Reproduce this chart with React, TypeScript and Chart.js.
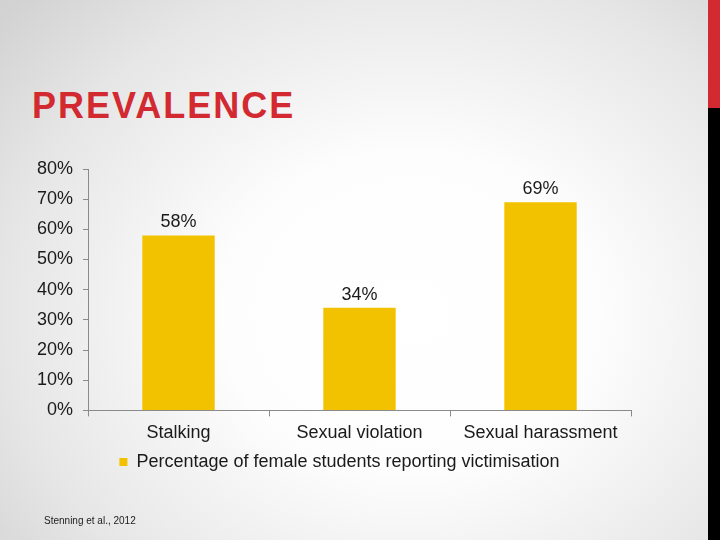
import { useEffect, useRef } from 'react';
import { Chart, registerables } from 'chart.js';

Chart.register(...registerables);

const categories = ['Stalking', 'Sexual violation', 'Sexual harassment'];
const seriesLabel = 'Percentage of female students reporting victimisation';
const values = [58, 34, 69];
const yTicks = [0, 10, 20, 30, 40, 50, 60, 70, 80];

const FONT = 'Arial, "Liberation Sans", sans-serif';
const BAR = '#F2C200';
const RED = '#D22A30';

// draws "58%" etc above each bar
const barValueLabels = {
  id: 'barValueLabels',
  afterDatasetsDraw(chart: Chart) {
    const ctx = chart.ctx;
    const meta = chart.getDatasetMeta(0);
    ctx.save();
    ctx.font = `18px ${FONT}`;
    ctx.fillStyle = '#1a1a1a';
    ctx.textAlign = 'center';
    ctx.textBaseline = 'alphabetic';
    meta.data.forEach((bar: any, i: number) => {
      ctx.fillText(values[i] + '%', bar.x, bar.y - 8);
    });
    ctx.restore();
  },
};

// legend in the slide sits a little right of / below the padded box
const legendNudge = {
  id: 'legendNudge',
  afterLayout(chart: Chart) {
    const lg: any = chart.legend;
    if (!lg) return;
    lg.left += 9;
    lg.right += 9;
    lg.top += 1;
    lg.bottom += 1;
  },
};

function PrevalenceChart() {
  const chartRef = useRef<HTMLCanvasElement>(null);
  const chartInstance = useRef<Chart | null>(null);

  useEffect(() => {
    if (!chartRef.current) return;
    if (chartInstance.current) chartInstance.current.destroy();

    chartInstance.current = new Chart(chartRef.current, {
      type: 'bar',
      data: {
        labels: categories,
        datasets: [{
          label: seriesLabel,
          data: values,
          backgroundColor: BAR,
          borderWidth: 0,
          categoryPercentage: 1,
          barPercentage: 0.4,
        }],
      },
      options: {
        animation: false,
        responsive: false,
        maintainAspectRatio: false,
        layout: { padding: { left: 30, right: 89, top: 169, bottom: 60 } },
        scales: {
          x: {
            grid: {
              display: true,
              drawOnChartArea: false,
              drawTicks: true,
              tickLength: 6,
              color: '#8a8a8a',
              offset: true,
            },
            border: { color: '#8a8a8a', width: 1 },
            ticks: {
              color: '#1a1a1a',
              font: { family: FONT, size: 18 },
              padding: 6,
              maxRotation: 0,
              autoSkip: false,
            },
          },
          y: {
            min: 0,
            max: 80,
            afterFit(scale: any) {
              scale.width = 58;
            },
            afterBuildTicks(scale: any) {
              scale.ticks = yTicks.map((v) => ({ value: v }));
            },
            grid: {
              drawOnChartArea: false,
              tickLength: 5,
              color: '#8a8a8a',
            },
            border: { color: '#8a8a8a', width: 1 },
            ticks: {
              color: '#1a1a1a',
              font: { family: FONT, size: 18 },
              padding: 10,
              callback: (v: any) => v + '%',
            },
          },
        },
        plugins: {
          legend: {
            position: 'bottom',
            labels: {
              boxWidth: 8,
              boxHeight: 8,
              color: '#1a1a1a',
              font: { family: FONT, size: 18 },
              padding: 2,
            },
          },
          tooltip: { enabled: false },
        },
      },
      plugins: [barValueLabels, legendNudge],
    });

    return () => {
      if (chartInstance.current) {
        chartInstance.current.destroy();
        chartInstance.current = null;
      }
    };
  }, []);

  return (
    <canvas
      ref={chartRef}
      width={720}
      height={540}
      style={{ position: 'absolute', left: 0, top: 0, width: 720, height: 540 }}
    />
  );
}

export default function App() {
  useEffect(() => {
    document.body.style.margin = '0';
  }, []);

  return (
    <div
      style={{
        position: 'relative',
        width: 720,
        height: 540,
        overflow: 'hidden',
        fontFamily: FONT,
        background: 'radial-gradient(ellipse 75% 85% at 57% 58%, #ffffff 0%, #fdfdfd 35%, #e6e6e6 75%, #d2d2d2 100%)',
      }}
    >
      <div
        style={{
          position: 'absolute',
          left: 32,
          top: 85,
          fontSize: 36,
          fontWeight: 'bold',
          letterSpacing: 2,
          color: RED,
          lineHeight: '42px',
        }}
      >
        PREVALENCE
      </div>
      <div style={{ position: 'absolute', left: 708, top: 0, width: 12, height: 108, background: RED }} />
      <div style={{ position: 'absolute', left: 708, top: 108, width: 12, height: 432, background: '#000' }} />
      <PrevalenceChart />
      <div style={{ position: 'absolute', left: 44, top: 515, fontSize: 10, color: '#222' }}>
        Stenning et al., 2012
      </div>
    </div>
  );
}
